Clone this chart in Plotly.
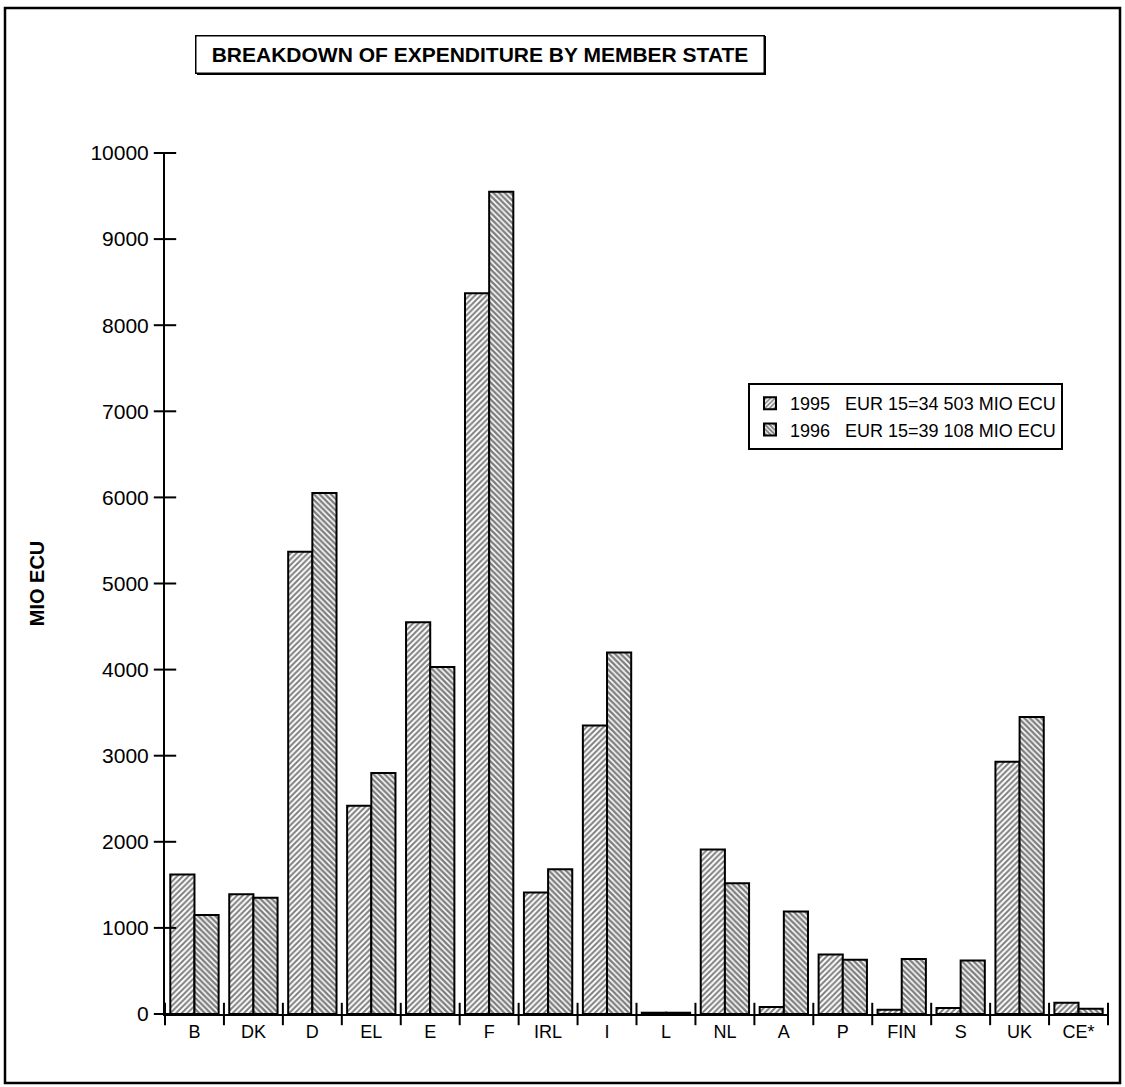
import plotly.graph_objects as go

categories = ["B", "DK", "D", "EL", "E", "F", "IRL", "I", "L", "NL", "A", "P", "FIN", "S", "UK", "CE*"]
values_1995 = [1620, 1390, 5370, 2420, 4550, 8370, 1410, 3350, 15, 1910, 80, 690, 50, 70, 2930, 130]
values_1996 = [1150, 1350, 6050, 2800, 4030, 9550, 1680, 4200, 15, 1520, 1190, 630, 640, 620, 3450, 60]
legend_1995 = "1995\u00a0\u00a0\u00a0EUR 15=34 503 MIO ECU"
legend_1996 = "1996\u00a0\u00a0\u00a0EUR 15=39 108 MIO ECU"
y_ticks = [0, 1000, 2000, 3000, 4000, 5000, 6000, 7000, 8000, 9000, 10000]
y_tick_labels = [str(v) for v in y_ticks]

FONT = "Liberation Sans, Arial, sans-serif"
W, H = 1125, 1087
L, R, T, B = 165, 17, 153, 73
pw, ph = W - L - R, H - T - B

def px(x):
    return (x - L) / pw

def py(y):
    return (H - B - y) / ph

n = len(categories)
fig = go.Figure()
fig.add_trace(go.Bar(
    x=categories, y=values_1995, name=legend_1995,
    marker=dict(color="white", line=dict(color="black", width=2),
                pattern=dict(shape="/", fgcolor="black", bgcolor="white", size=4, solidity=0.5)),
))
fig.add_trace(go.Bar(
    x=categories, y=values_1996, name=legend_1996,
    marker=dict(color="white", line=dict(color="black", width=2),
                pattern=dict(shape="\\", fgcolor="black", bgcolor="white", size=4, solidity=0.62)),
))
# tick marks crossing the axis lines (drawn on a numeric overlay x axis)
boundaries = [i - 0.5 for i in range(n + 1)]
fig.add_trace(go.Scatter(x=boundaries, y=[0] * len(boundaries), xaxis="x2", yaxis="y",
                         mode="markers", cliponaxis=False, showlegend=False, hoverinfo="skip",
                         marker=dict(symbol="line-ns", size=16, color="black",
                                     line=dict(color="black", width=2))))
fig.add_trace(go.Scatter(x=[-0.5] * len(y_ticks), y=y_ticks, xaxis="x2", yaxis="y",
                         mode="markers", cliponaxis=False, showlegend=False, hoverinfo="skip",
                         marker=dict(symbol="line-ew", size=16, color="black",
                                     line=dict(color="black", width=2))))

fig.update_layout(
    width=W, height=H,
    margin=dict(l=L, r=R, t=T, b=B),
    paper_bgcolor="white", plot_bgcolor="white",
    font=dict(family=FONT, color="black"),
    barmode="group", bargap=0.18, bargroupgap=0,
    showlegend=True,
    legend=dict(x=px(748), y=py(383), xanchor="left", yanchor="top",
                bordercolor="black", borderwidth=2, bgcolor="white",
                font=dict(size=18, family=FONT), tracegroupgap=0, itemwidth=30),
    xaxis=dict(range=[-0.5, n - 0.5], showline=True, linecolor="black", linewidth=2,
               ticks="", tickfont=dict(size=18), showgrid=False, zeroline=False),
    xaxis2=dict(type="linear", range=[-0.5, n - 0.5], overlaying="x", anchor="y",
                visible=False, showgrid=False, zeroline=False),
    yaxis=dict(range=[0, 10000], tickvals=y_ticks, ticktext=y_tick_labels,
               showline=True, linecolor="black", linewidth=2,
               ticks="", ticklabelstandoff=10,
               tickfont=dict(size=21), showgrid=False, zeroline=False,
               title=dict(text="<b>MIO ECU</b>", font=dict(size=20), standoff=40)),
)

# outer frame
fig.add_shape(type="rect", xref="paper", yref="paper",
              x0=px(5), x1=px(1120), y0=py(1083), y1=py(8),
              line=dict(color="black", width=2.5), fillcolor="rgba(0,0,0,0)", layer="below")
# title box shadow
fig.add_shape(type="rect", xref="paper", yref="paper",
              x0=px(198), x1=px(765), y0=py(74), y1=py(37),
              line=dict(color="black", width=2), fillcolor="black", layer="below")
fig.add_annotation(xref="paper", yref="paper", x=px(195), y=py(35), xanchor="left", yanchor="top",
                   text="<b>BREAKDOWN OF EXPENDITURE BY MEMBER STATE</b>", showarrow=False,
                   font=dict(size=21, family=FONT, color="black"),
                   bgcolor="white", bordercolor="black", borderwidth=1.5, borderpad=6,
                   width=555, height=24, align="center")

fig.write_html("out.html", config={"displayModeBar": False},
               post_script="document.body.style.margin='0';")
